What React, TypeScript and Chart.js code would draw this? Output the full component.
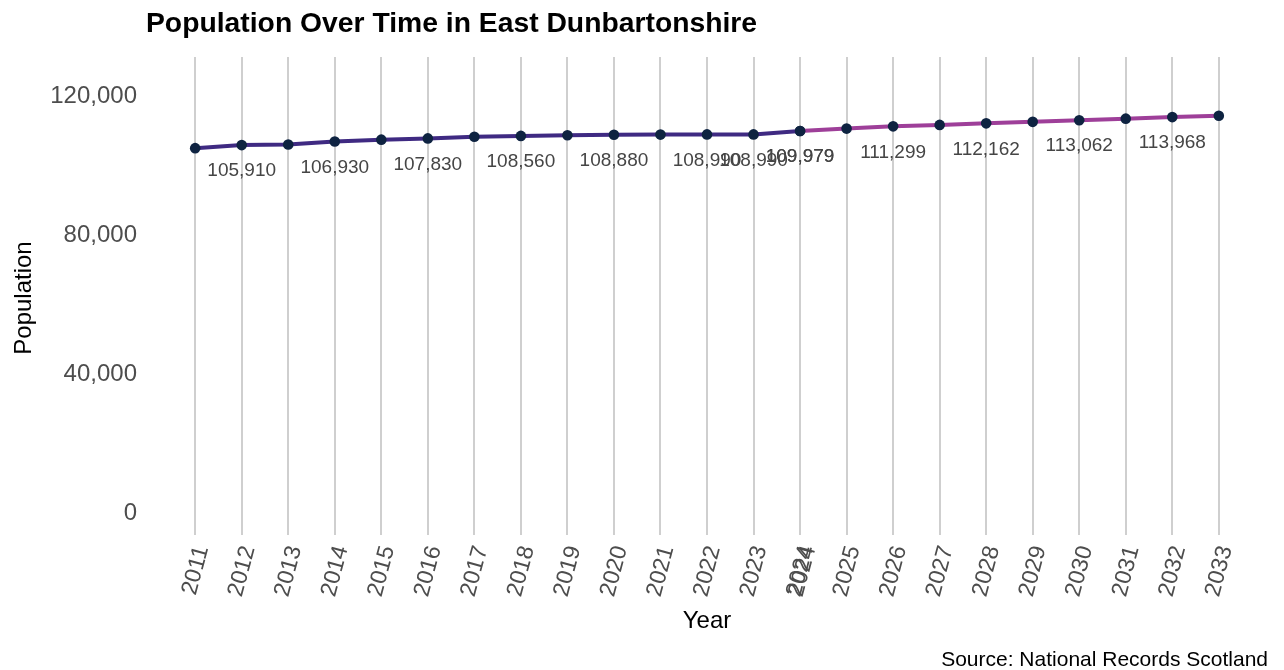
import React, { useEffect, useRef } from 'react';
import { Chart, registerables } from 'chart.js';

Chart.register(...registerables);

const TITLE = 'Population Over Time in East Dunbartonshire';
const X_TITLE = 'Year';
const Y_TITLE = 'Population';
const CAPTION = 'Source: National Records Scotland';

const histYears = [2011, 2012, 2013, 2014, 2015, 2016, 2017, 2018, 2019, 2020, 2021, 2022, 2023, 2024];
const histPop = [105030, 105910, 106090, 106930, 107480, 107830, 108330, 108560, 108750, 108880, 108930, 108990, 108990, 109979];
const projYears = [2024, 2025, 2026, 2027, 2028, 2029, 2030, 2031, 2032, 2033];
const projPop = [109979, 110650, 111299, 111720, 112162, 112600, 113062, 113520, 113968, 114350];

const histLabelYears = [2012, 2014, 2016, 2018, 2020, 2022, 2023, 2024];
const projLabelYears = [2024, 2026, 2028, 2030, 2032];

const yTicks = [0, 40000, 80000, 120000];
const xTickYears = [...histYears, ...projYears];

const FONT = "'Liberation Sans', Arial, Helvetica, sans-serif";
const fmt = (v: number) => Math.round(v).toLocaleString('en-US');

const textPlugin = {
  id: 'textPlugin',
  afterDatasetsDraw(chart: any) {
    const ctx = chart.ctx;
    ctx.save();
    ctx.font = `19px ${FONT}`;
    ctx.fillStyle = '#454545';
    ctx.textAlign = 'center';
    ctx.textBaseline = 'middle';
    const sets = [
      { idx: 0, years: histYears, vals: histPop, show: histLabelYears },
      { idx: 1, years: projYears, vals: projPop, show: projLabelYears },
    ];
    sets.forEach((s) => {
      const meta = chart.getDatasetMeta(s.idx);
      s.years.forEach((yr, i) => {
        if (!s.show.includes(yr)) return;
        const el = meta.data[i];
        ctx.fillText(fmt(s.vals[i]), el.x, el.y + 26);
      });
    });
    ctx.restore();
  },
  afterDraw(chart: any) {
    const ctx = chart.ctx;
    const area = chart.chartArea;
    ctx.save();
    ctx.fillStyle = '#000';
    ctx.font = `bold 28.3px ${FONT}`;
    ctx.textAlign = 'left';
    ctx.textBaseline = 'alphabetic';
    ctx.fillText(TITLE, area.left + 2, 32);

    ctx.font = `24px ${FONT}`;
    ctx.textAlign = 'center';
    ctx.fillText(X_TITLE, (area.left + area.right) / 2, 628);

    ctx.save();
    ctx.translate(24, (area.top + area.bottom) / 2 + 2);
    ctx.rotate(-Math.PI / 2);
    ctx.textBaseline = 'middle';
    ctx.fillText(Y_TITLE, 0, 0);
    ctx.restore();

    ctx.font = `21px ${FONT}`;
    ctx.textAlign = 'right';
    ctx.textBaseline = 'alphabetic';
    ctx.fillText(CAPTION, 1268, 666);
    ctx.restore();
  },
};

export default function App() {
  const ref = useRef<HTMLCanvasElement | null>(null);

  useEffect(() => {
    document.body.style.margin = '0';
    const canvas = ref.current;
    if (!canvas) return;
    const chart = new Chart(canvas, {
      type: 'line',
      data: {
        datasets: [
          {
            data: histYears.map((x, i) => ({ x, y: histPop[i] })),
            borderColor: '#3f2a82',
            borderWidth: 4,
            pointRadius: 5.3,
            pointBackgroundColor: '#0e2341',
            pointBorderColor: '#0e2341',
            pointBorderWidth: 0,
            tension: 0,
          },
          {
            data: projYears.map((x, i) => ({ x, y: projPop[i] })),
            borderColor: '#9e3f99',
            borderWidth: 4,
            pointRadius: 5.3,
            pointBackgroundColor: '#0e2341',
            pointBorderColor: '#0e2341',
            pointBorderWidth: 0,
            tension: 0,
          },
        ],
      },
      options: {
        animation: false,
        responsive: false,
        events: [],
        layout: { padding: { top: 57, left: 0, right: 14, bottom: 0 } },
        plugins: { legend: { display: false }, tooltip: { enabled: false }, title: { display: false } },
        scales: {
          x: {
            type: 'linear',
            min: 2009.9,
            max: 2034.1,
            afterBuildTicks: (scale: any) => {
              const seen = new Set<number>();
              const t = xTickYears.map((v) => {
                const val = seen.has(v) ? v + 0.05 : v;
                seen.add(v);
                return { value: val };
              });
              t.sort((a, b) => a.value - b.value);
              scale.ticks = t;
            },
            afterFit: (scale: any) => {
              scale.height = 670 - 535;
            },
            grid: {
              display: true,
              drawTicks: false,
              lineWidth: 2,
              color: (c: any) =>
                c.tick && Math.abs(c.tick.value - Math.round(c.tick.value)) > 1e-6 ? 'rgba(0,0,0,0)' : '#cfcfcf',
            },
            border: { display: false },
            ticks: {
              autoSkip: false,
              minRotation: 75,
              maxRotation: 75,
              padding: 8,
              labelOffset: 7,
              color: '#4d4d4d',
              font: { family: FONT, size: 23 },
              callback: (v: any) => String(Math.round(Number(v))),
            },
          },
          y: {
            type: 'linear',
            min: -6250,
            max: 131250,
            afterBuildTicks: (scale: any) => {
              scale.ticks = yTicks.map((v) => ({ value: v }));
            },
            afterFit: (scale: any) => {
              scale.width = 144;
            },
            grid: { display: false, drawTicks: false },
            border: { display: false },
            ticks: {
              padding: 7,
              color: '#4d4d4d',
              font: { family: FONT, size: 24 },
              callback: (v: any) => fmt(Number(v)),
            },
          },
        },
      },
      plugins: [textPlugin],
    });
    return () => chart.destroy();
  }, []);

  return <canvas ref={ref} width={1284} height={670} style={{ display: 'block' }} />;
}
